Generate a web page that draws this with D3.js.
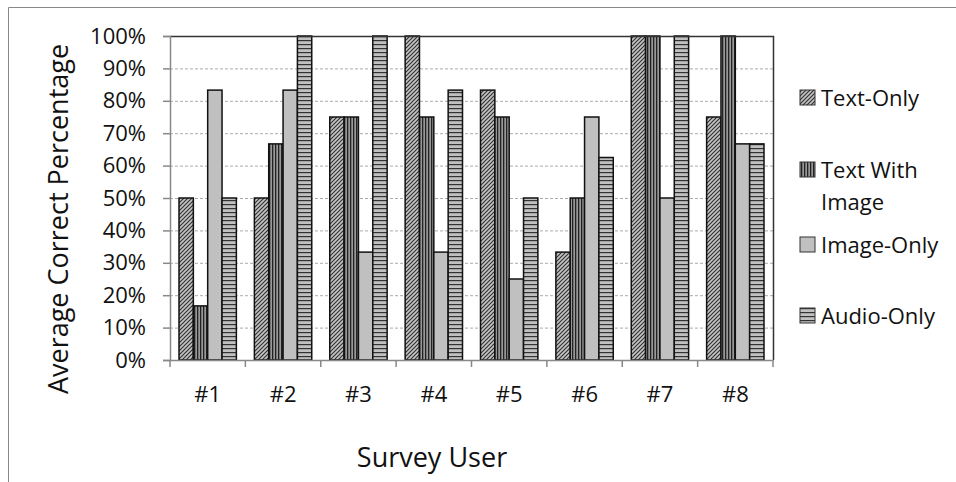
<!DOCTYPE html>
<meta charset="utf-8">
<style>
body { margin: 0; background: #fff; }
svg { display: block; font-family: "Open Sans", sans-serif; }
</style>
<script src="https://cdn.jsdelivr.net/npm/d3@7"></script>
<div id="chart"></div>
<script>
// data
const users = ["#1", "#2", "#3", "#4", "#5", "#6", "#7", "#8"];
const seriesNames = ["Text-Only", "Text With Image", "Image-Only", "Audio-Only"];
const textOnly      = [50, 50, 75, 100, 83.3, 33.3, 100, 75];
const textWithImage = [16.7, 66.7, 75, 75, 75, 50, 100, 100];
const imageOnly     = [83.3, 83.3, 33.3, 33.3, 25, 75, 50, 66.7];
const audioOnly     = [50, 100, 100, 83.3, 50, 62.5, 100, 66.7];
const yTicks = [0, 10, 20, 30, 40, 50, 60, 70, 80, 90, 100];

const values = [textOnly, textWithImage, imageOnly, audioOnly];

const W = 956, H = 482;
const margin = {top: 36, right: 183, bottom: 122, left: 170};
const width = W - margin.left - margin.right,
      height = H - margin.top - margin.bottom;

const svg = d3.select("#chart").append("svg")
  .attr("width", W).attr("height", H);

// fill patterns
const defs = svg.append("defs");
const p1 = defs.append("pattern").attr("id", "pat0")
  .attr("patternUnits", "userSpaceOnUse").attr("width", 4).attr("height", 4);
p1.append("rect").attr("width", 4).attr("height", 4).attr("fill", "#c4c4c4");
p1.append("path").attr("d", "M-1,1 l2,-2 M0,4 l4,-4 M3,5 l2,-2")
  .attr("stroke", "#333").attr("stroke-width", 1.2);

const p2 = defs.append("pattern").attr("id", "pat1")
  .attr("patternUnits", "userSpaceOnUse").attr("width", 3).attr("height", 3);
p2.append("rect").attr("width", 3).attr("height", 3).attr("fill", "#999");
p2.append("rect").attr("width", 1.3).attr("height", 3).attr("fill", "#222");

const p4 = defs.append("pattern").attr("id", "pat3")
  .attr("patternUnits", "userSpaceOnUse").attr("width", 4).attr("height", 4);
p4.append("rect").attr("width", 4).attr("height", 4).attr("fill", "#c0c0c0");
p4.append("rect").attr("y", 0).attr("width", 4).attr("height", 1.2).attr("fill", "#333");

const fills = ["url(#pat0)", "url(#pat1)", "#c0c0c0", "url(#pat3)"];

// outer frame
svg.append("path").attr("d", `M8.5,${H} V7.5 H${W}`)
  .attr("fill", "none").attr("stroke", "#888").attr("stroke-width", 1);

const g = svg.append("g").attr("transform", `translate(${margin.left},${margin.top})`);

const x = d3.scaleBand().domain(users).range([0, width]);
const xs = d3.scaleBand().domain(d3.range(4)).range([9, x.bandwidth() - 9]);
const y = d3.scaleLinear().domain([0, 100]).range([height, 0]);

// gridlines
g.append("g").selectAll("line").data(yTicks.filter(d => d > 0 && d < 100)).join("line")
  .attr("x1", 0).attr("x2", width)
  .attr("y1", d => y(d) + 0.5).attr("y2", d => y(d) + 0.5)
  .attr("stroke", "#aaa").attr("stroke-dasharray", "3,2");

// bars
users.forEach((u, i) => {
  values.forEach((s, j) => {
    g.append("rect")
      .attr("x", x(u) + xs(j))
      .attr("y", y(s[i]))
      .attr("width", xs.bandwidth())
      .attr("height", height - y(s[i]))
      .attr("fill", fills[j])
      .attr("stroke", "#111").attr("stroke-width", 1.5);
  });
});

// plot border top/right
g.append("path").attr("d", `M0,0.5 H${width + 0.5} V${height}`)
  .attr("fill", "none").attr("stroke", "#333").attr("stroke-width", 1.5);

// y axis
const yAxis = g.append("g")
  .call(d3.axisLeft(y).tickValues(yTicks).tickFormat(d => d + "%").tickSize(7).tickPadding(17));
yAxis.select(".domain").attr("stroke", "#888").attr("stroke-width", 1.5);
yAxis.selectAll(".tick line").attr("stroke", "#888").attr("stroke-width", 1.5);
yAxis.selectAll("text").attr("font-size", 22).attr("fill", "#111")
  .attr("font-family", "Open Sans");

// x axis
const xAxis = g.append("g").attr("transform", `translate(0,${height})`)
  .call(d3.axisBottom(x).tickSize(0).tickPadding(26));
xAxis.select(".domain").attr("stroke", "#888").attr("stroke-width", 1.5);
xAxis.selectAll("text").attr("font-size", 22).attr("fill", "#111")
  .attr("font-family", "Open Sans");
// separator ticks between groups
xAxis.selectAll(".sep").data(d3.range(users.length + 1)).join("line")
  .attr("x1", d => d * x.step()).attr("x2", d => d * x.step())
  .attr("y1", 0).attr("y2", 7)
  .attr("stroke", "#888").attr("stroke-width", 1.5);

// axis titles
svg.append("text").attr("x", 432).attr("y", 467)
  .attr("text-anchor", "middle").attr("font-size", 27).attr("fill", "#111")
  .text("Survey User");
svg.append("text").attr("transform", "translate(68,219) rotate(-90)")
  .attr("text-anchor", "middle").attr("font-size", 27).attr("fill", "#111")
  .text("Average Correct Percentage");

// legend
const legendRows = [
  {lines: ["Text-Only"], y: 98},
  {lines: ["Text With", "Image"], y: 170},
  {lines: ["Image-Only"], y: 245},
  {lines: ["Audio-Only"], y: 316}
];
legendRows.forEach((r, j) => {
  svg.append("rect").attr("x", 800).attr("y", r.y - 8).attr("width", 15).attr("height", 15)
    .attr("fill", fills[j]).attr("stroke", "#333").attr("stroke-width", 1);
  r.lines.forEach((t, k) => {
    svg.append("text").attr("x", 821).attr("y", r.y + 8 + k * 32)
      .attr("font-size", 22).attr("fill", "#111").text(t);
  });
});
</script>
